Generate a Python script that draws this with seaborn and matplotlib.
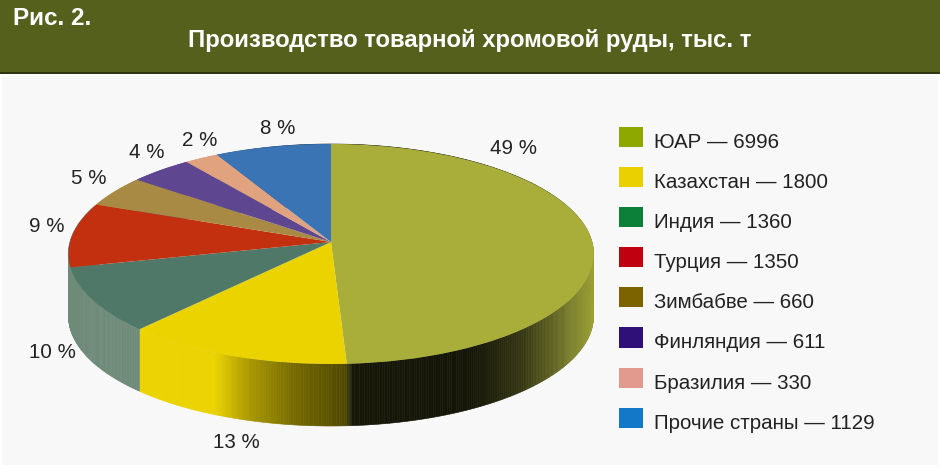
import matplotlib
matplotlib.use('Agg')
import matplotlib.pyplot as plt
import matplotlib.transforms as mtransforms
from matplotlib.collections import PolyCollection
from matplotlib.patches import Patch, Rectangle
import numpy as np
import seaborn as sns

# Data
countries = ['ЮАР', 'Казахстан', 'Индия', 'Турция', 'Зимбабве', 'Финляндия', 'Бразилия', 'Прочие страны']
tonnes = [6996, 1800, 1360, 1350, 660, 611, 330, 1129]
percent_labels = ['49 %', '13 %', '10 %', '9 %', '5 %', '4 %', '2 %', '8 %']

top_colors = ['#A9AE3A', '#EBD300', '#4F7868', '#C2300F', '#A98A45', '#5F4690', '#E0A27F', '#3A74B5']
side_colors = ['#A9AE3A', '#EBD300', '#6E8A78', '#6E8A78', '#A98A45', '#5F4690', '#E0A27F', '#3A74B5']
legend_colors = ['#8FA800', '#EBD000', '#0C8038', '#C00010', '#7D6200', '#2E1078', '#E39A8E', '#1478C8']

sns.set_theme(style='white')
plt.rcParams['font.family'] = ['Liberation Sans', 'DejaVu Sans']


class PiePerspective(mtransforms.Transform):
    # maps the unit disc of ax.pie onto the tilted pie, in pixel coordinates
    input_dims = 2
    output_dims = 2
    is_separable = False
    has_inverse = False

    def __init__(self, cx=331, cy=242, bx=261, by=108.7, k=0.109, drop=0):
        super().__init__()
        self.cx, self.cy, self.bx, self.by, self.k, self.drop = cx, cy, bx, by, k, drop

    def transform_non_affine(self, values):
        u, v = values[:, 0], values[:, 1]
        w = 1 + self.k * v
        return np.column_stack([self.cx + self.bx * u / w, self.cy + self.drop - self.by * v / w])


fig = plt.figure(figsize=(9.4, 4.74), dpi=100, facecolor='white')
ax = fig.add_axes([0, 0, 1, 1])

wedges, _ = ax.pie(tonnes, startangle=90, counterclock=False, colors=top_colors, radius=1, frame=True,
                   wedgeprops={'linewidth': 0})
ax.set_aspect('auto')
ax.set_xlim(0, 940)
ax.set_ylim(474, 0)
ax.axis('off')

# Page background and header band
ax.add_patch(Rectangle((2, 76), 936, 389, facecolor='#F8F8F8', edgecolor='none', zorder=0))
ax.add_patch(Rectangle((0, 0), 940, 72, facecolor='#55601C', edgecolor='none', zorder=0))
ax.add_patch(Rectangle((0, 72), 940, 2, facecolor='#2E3510', edgecolor='none', zorder=0))

top_map = PiePerspective()
low_map = PiePerspective(drop=62)
for w in wedges:
    w.set_transform(top_map + ax.transData)
    w.set_zorder(3)

# Side wall, shaded by horizontal position
shade_x = [130, 215, 250, 300, 350, 352, 470, 520, 560, 596]
shade_v = [1.0, 1.0, 0.72, 0.48, 0.33, 0.13, 0.12, 0.3, 0.62, 0.95]
quads, quad_colors = [], []
for w, col in zip(wedges, side_colors):
    base = np.array(matplotlib.colors.to_rgb(col))
    n = max(2, int((w.theta2 - w.theta1) / 0.5))
    ang = np.radians(np.linspace(w.theta1, w.theta2, n + 1))
    rim = np.column_stack([np.cos(ang), np.sin(ang)])
    up = top_map.transform(rim)
    dn = low_map.transform(rim)
    for i in range(n):
        quads.append([up[i], up[i + 1], dn[i + 1], dn[i]])
        s = np.interp((up[i, 0] + up[i + 1, 0]) / 2, shade_x, shade_v)
        quad_colors.append(base * s)
ax.add_collection(PolyCollection(quads, facecolors=quad_colors, edgecolors=quad_colors, linewidths=0.4, zorder=2))

# Percent labels
label_pos = [(513, 148), (236, 442), (52, 353), (47, 226), (89, 179), (147, 153), (200, 141), (278, 128)]
for txt, (x, y) in zip(percent_labels, label_pos):
    ax.text(x, y, txt, fontsize=14.8, color='#222222', ha='center', va='center', zorder=5)

# Header text
ax.text(13, 18.5, 'Рис. 2.', fontsize=17.5, fontweight='bold', color='white', ha='left', va='center', zorder=5)
ax.text(469.5, 40.5, 'Производство товарной хромовой руды, тыс. т', fontsize=17.2, fontweight='bold',
        color='white', ha='center', va='center', zorder=5)

# Legend, swatches sit a little above the text baseline in the original
handles = [Patch(facecolor=c, edgecolor='none') for c in legend_colors]
labels = [f'{name} — {val}' for name, val in zip(countries, tonnes)]
leg = ax.legend(handles, labels, loc='upper left', bbox_to_anchor=(613 / 940, 1 - 124.5 / 474), frameon=False,
                fontsize=14.8, labelcolor='#222222', handlelength=1.17, handleheight=1.13, handletextpad=0.52,
                labelspacing=0.93, borderpad=0.3, borderaxespad=0)
for p in leg.get_patches():
    p.set_y(p.get_y() + 2.9)

fig.savefig('out.png', dpi=100, facecolor='white')
